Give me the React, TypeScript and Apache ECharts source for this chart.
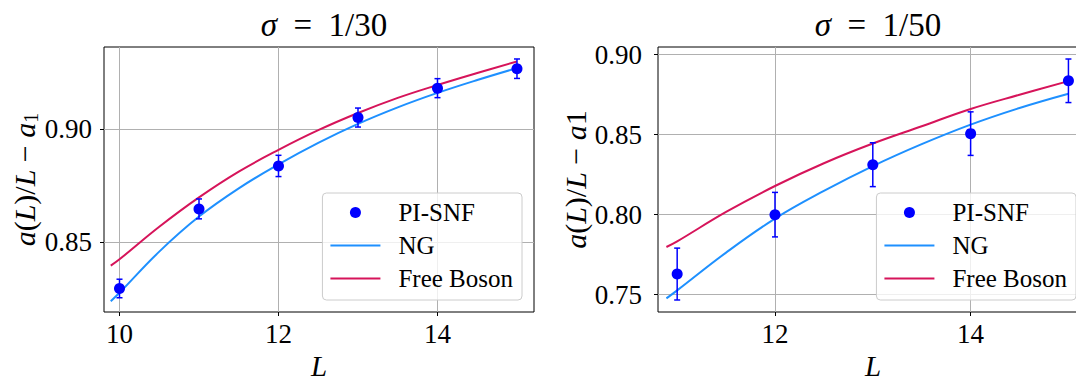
import React, { useEffect, useRef } from 'react';
import * as echarts from 'echarts';

// ---- Left panel: sigma = 1/30 ----
const L_A = [10, 11, 12, 13, 14, 15];
const PI_A = [0.8296, 0.8648, 0.8838, 0.9052, 0.9182, 0.9268];
const ERR_A = [0.0041, 0.0044, 0.0047, 0.0042, 0.0042, 0.0043];
const CURVE_L_A = [9.89, 10, 10.5, 11, 11.5, 12, 12.5, 13, 13.5, 14, 14.5, 15];
const NG_A = [0.824, 0.8277, 0.8459, 0.8614, 0.8739, 0.8845, 0.894, 0.9024, 0.9097, 0.9161, 0.9218, 0.9271];
const FB_A = [0.8397, 0.8425, 0.8569, 0.8699, 0.8813, 0.8909, 0.8996, 0.9072, 0.9139, 0.9196, 0.9249, 0.93];
const X_TICKS_A = [10, 12, 14];
const Y_TICKS_A = [0.85, 0.9];

// ---- Right panel: sigma = 1/50 ----
const L_B = [11, 12, 13, 14, 15];
const PI_B = [0.7629, 0.8, 0.8312, 0.8506, 0.8836];
const ERR_B = [0.0162, 0.0139, 0.0137, 0.0136, 0.0136];
const CURVE_L_B = [10.89, 11, 11.5, 12, 12.5, 13, 13.5, 14, 14.5, 15];
const NG_B = [0.7477, 0.7527, 0.7763, 0.7975, 0.8148, 0.8303, 0.844, 0.8562, 0.8666, 0.8755];
const FB_B = [0.7798, 0.7833, 0.8017, 0.8179, 0.8321, 0.8444, 0.8552, 0.866, 0.8749, 0.8834];
const X_TICKS_B = [12, 14];
const Y_TICKS_B = [0.75, 0.8, 0.85, 0.9];

const SERIES_NAMES = ['PI-SNF', 'NG', 'Free Boson'];

const FONT = 'Liberation Serif';
const BLUE_PT = '#0000ff';
const NG_COLOR = '#1e90ff';
const FB_COLOR = '#d6145a';
const LINE_ICON = 'path://M0,0L50,0L50,2L0,2Z';

const zip = (xs: number[], ys: number[]) => xs.map((x, i) => [x, ys[i]]);
const zip3 = (xs: number[], ys: number[], es: number[]) => xs.map((x, i) => [x, ys[i], es[i]]);

function makeXAxis(gridIndex: number, min: number, max: number, ticks: number[]) {
  return {
    type: 'value',
    gridIndex,
    min,
    max,
    name: '{i|L}',
    nameLocation: 'middle',
    nameGap: 29,
    nameTextStyle: {
      lineHeight: 28,
      rich: { i: { fontFamily: FONT, fontStyle: 'italic', fontSize: 29, lineHeight: 28, color: '#000' } },
    },
    axisLine: { show: false },
    axisTick: { show: true, inside: false, length: 4, lineStyle: { color: '#000', width: 1 }, customValues: ticks },
    axisLabel: {
      customValues: ticks,
      fontFamily: FONT,
      fontSize: 27,
      color: '#000',
      margin: 8,
      formatter: (v: number) => String(v),
    },
    splitLine: { show: true, lineStyle: { color: '#b0b0b0', width: 1 } },
  };
}

function makeYAxis(gridIndex: number, min: number, max: number, ticks: number[], name: string, gap: number, margin: number) {
  return {
    type: 'value',
    gridIndex,
    min,
    max,
    name,
    nameLocation: 'middle',
    nameGap: gap,
    nameTextStyle: {
      fontFamily: FONT,
      fontSize: 30,
      color: '#000',
      rich: {
        i: { fontFamily: FONT, fontStyle: 'italic', fontSize: 30, color: '#000' },
        r: { fontFamily: FONT, fontSize: 30, color: '#000' },
        s: { fontFamily: FONT, fontSize: 20, color: '#000', padding: [12, 0, 0, 0] },
      },
    },
    axisLine: { show: false },
    axisTick: { show: true, inside: false, length: 4, lineStyle: { color: '#000', width: 1 }, customValues: ticks },
    axisLabel: {
      customValues: ticks,
      fontFamily: FONT,
      fontSize: 27,
      color: '#000',
      margin,
      formatter: (v: number) => v.toFixed(2),
    },
    splitLine: { show: true, lineStyle: { color: '#b0b0b0', width: 1 } },
  };
}

function errorBarSeries(idx: number, data: number[][]) {
  return {
    type: 'custom',
    xAxisIndex: idx,
    yAxisIndex: idx,
    data,
    encode: { x: 0, y: 1 },
    z: 3,
    renderItem: (params: any, api: any) => {
      const x = api.value(0);
      const y = api.value(1);
      const e = api.value(2);
      const lo = api.coord([x, y - e]);
      const hi = api.coord([x, y + e]);
      const w = 3;
      const st = { stroke: BLUE_PT, lineWidth: 1.5 };
      return {
        type: 'group',
        children: [
          { type: 'line', shape: { x1: lo[0], y1: lo[1], x2: hi[0], y2: hi[1] }, style: st },
          { type: 'line', shape: { x1: lo[0] - w, y1: lo[1], x2: lo[0] + w, y2: lo[1] }, style: st },
          { type: 'line', shape: { x1: hi[0] - w, y1: hi[1], x2: hi[0] + w, y2: hi[1] }, style: st },
        ],
      };
    },
  };
}

function panelSeries(idx: number, cl: number[], ng: number[], fb: number[], pl: number[], pv: number[], pe: number[]) {
  return [
    {
      name: 'NG',
      type: 'line',
      xAxisIndex: idx,
      yAxisIndex: idx,
      data: zip(cl, ng),
      smooth: 0.4,
      symbol: 'none',
      lineStyle: { color: NG_COLOR, width: 2 },
      itemStyle: { color: NG_COLOR },
      z: 2,
    },
    {
      name: 'Free Boson',
      type: 'line',
      xAxisIndex: idx,
      yAxisIndex: idx,
      data: zip(cl, fb),
      smooth: 0.4,
      symbol: 'none',
      lineStyle: { color: FB_COLOR, width: 2 },
      itemStyle: { color: FB_COLOR },
      z: 2,
    },
    errorBarSeries(idx, zip3(pl, pv, pe)),
    {
      name: 'PI-SNF',
      type: 'scatter',
      xAxisIndex: idx,
      yAxisIndex: idx,
      data: zip(pl, pv),
      symbol: 'circle',
      symbolSize: 11,
      itemStyle: { color: BLUE_PT, opacity: 1 },
      z: 4,
    },
  ];
}

function makeLegend(right: number) {
  return {
    data: [
      { name: SERIES_NAMES[0], icon: 'circle' },
      { name: SERIES_NAMES[1], icon: LINE_ICON, itemStyle: { color: NG_COLOR } },
      { name: SERIES_NAMES[2], icon: LINE_ICON, itemStyle: { color: FB_COLOR } },
    ],
    orient: 'vertical',
    right,
    top: 193,
    itemWidth: 50,
    itemHeight: 11,
    itemGap: 8,
    padding: [7, 9, 9, 8],
    backgroundColor: 'rgba(255,255,255,0.8)',
    borderColor: '#cccccc',
    borderWidth: 1,
    borderRadius: 4,
    selectedMode: false,
    z: 10,
    textStyle: {
      fontFamily: FONT,
      fontSize: 25,
      color: '#000',
      padding: [0, 0, 0, 13],
    },
  };
}

function makeTitle(text: string, center: number) {
  return {
    text,
    left: center,
    top: 3,
    textAlign: 'center',
    textStyle: {
      fontFamily: FONT,
      fontSize: 33,
      fontWeight: 'normal',
      color: '#000',
      rich: {
        i: { fontFamily: FONT, fontStyle: 'italic', fontSize: 33, color: '#000' },
        r: { fontFamily: FONT, fontSize: 33, color: '#000' },
      },
    },
  };
}

export default function App() {
  const ref = useRef<HTMLDivElement>(null);
  useEffect(() => {
    if (!ref.current) return;
    const chart = echarts.init(ref.current, null, { renderer: 'svg' });
    const gridBase = {
      top: 47,
      width: 430,
      height: 265,
      show: true,
      borderColor: '#000',
      borderWidth: 1,
      backgroundColor: 'transparent',
      containLabel: false,
      outerBoundsMode: 'none',
    };
    const option = {
      animation: false,
      backgroundColor: '#ffffff',
      title: [makeTitle('{i|σ}{r|  =  1/30}', 319), makeTitle('{i|σ}{r|  =  1/50}', 873)],
      grid: [
        { ...gridBase, left: 104 },
        { ...gridBase, left: 658 },
      ],
      xAxis: [makeXAxis(0, 9.805, 15.214, X_TICKS_A), makeXAxis(1, 10.804, 15.2, X_TICKS_B)],
      yAxis: [
        makeYAxis(0, 0.8192, 0.9364, Y_TICKS_A, '{i|a}{r|(}{i|L}{r|)/}{i|L}{r| − }{i|a}{s|1}', 55, 12),
        makeYAxis(1, 0.7392, 0.9047, Y_TICKS_B, '{i|a}{r|(}{i|L}{r|)/}{i|L}{r| − }{i|a}{r|1}', 63, 16),
      ],
      legend: [makeLegend(554), makeLegend(0)],
      series: [
        ...panelSeries(0, CURVE_L_A, NG_A, FB_A, L_A, PI_A, ERR_A),
        ...panelSeries(1, CURVE_L_B, NG_B, FB_B, L_B, PI_B, ERR_B),
      ],
    };
    chart.setOption(option as any);
    return () => chart.dispose();
  }, []);
  return (
    <div
      ref={ref}
      style={{ position: 'absolute', left: 0, top: 0, width: 1076, height: 376, background: '#fff' }}
    />
  );
}
